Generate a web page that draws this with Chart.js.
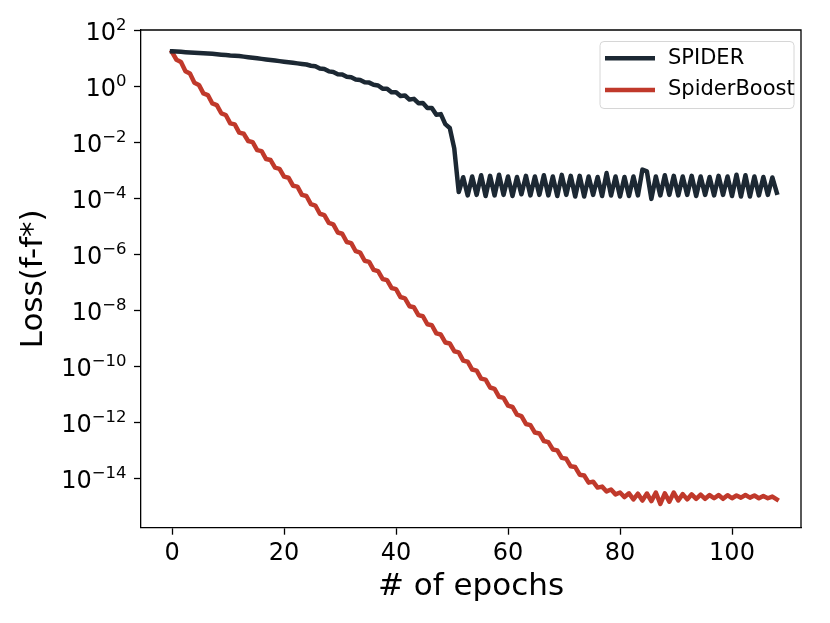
<!DOCTYPE html>
<html>
<head>
<meta charset="utf-8">
<script src="https://cdn.jsdelivr.net/npm/chart.js@4.4.1/dist/chart.umd.min.js"></script>
<style>
  html, body { margin: 0; padding: 0; background: #fff; }
  canvas { display: block; }
</style>
</head>
<body>
<canvas id="c" width="830" height="623"></canvas>
<script>
// ---- data ----
const epochs = [0, 0.8, 1.6, 2.4, 3.2, 4, 4.8, 5.6, 6.4, 7.2, 8, 8.8, 9.6, 10.4, 11.2, 12, 12.8, 13.6, 14.4, 15.2,
  16, 16.8, 17.6, 18.4, 19.2, 20, 20.8, 21.6, 22.4, 23.2, 24, 24.8, 25.6, 26.4, 27.2, 28, 28.8, 29.6, 30.4, 31.2,
  32, 32.8, 33.6, 34.4, 35.2, 36, 36.8, 37.6, 38.4, 39.2, 40, 40.8, 41.6, 42.4, 43.2, 44, 44.8, 45.6, 46.4, 47.2,
  48, 48.8, 49.6, 50.4, 51.2, 52, 52.8, 53.6, 54.4, 55.2, 56, 56.8, 57.6, 58.4, 59.2, 60, 60.8, 61.6, 62.4, 63.2,
  64, 64.8, 65.6, 66.4, 67.2, 68, 68.8, 69.6, 70.4, 71.2, 72, 72.8, 73.6, 74.4, 75.2, 76, 76.8, 77.6, 78.4, 79.2,
  80, 80.8, 81.6, 82.4, 83.2, 84, 84.8, 85.6, 86.4, 87.2, 88, 88.8, 89.6, 90.4, 91.2, 92, 92.8, 93.6, 94.4, 95.2,
  96, 96.8, 97.6, 98.4, 99.2, 100, 100.8, 101.6, 102.4, 103.2, 104, 104.8, 105.6, 106.4, 107.2, 108];

const spiderLoss = [
  17.38, 16.98, 16.60, 16.22, 15.85, 15.49, 15.14, 14.79, 14.45, 14.13,
  13.65, 13.18, 12.74, 12.30, 12.02, 11.75, 11.22, 10.72, 10.23, 9.77,
  9.33, 8.91, 8.51, 8.13, 7.76, 7.41, 7.08, 6.76, 6.46, 6.17,
  5.89, 5.31, 5.07, 4.22, 4.03, 3.35, 3.20, 2.66, 2.60, 2.16,
  2.07, 1.72, 1.64, 1.36, 1.33, 1.11, 1.05, 0.81, 0.81, 0.60,
  0.60, 0.44, 0.46, 0.33, 0.35, 0.245, 0.25, 0.166, 0.166, 0.095,
  0.10, 0.044, 0.032, 6.0e-3, 1.66e-4,
  5.6e-4, 1.26e-4, 6.0e-4, 1.32e-4, 6.6e-4, 1.20e-4, 6.3e-4, 1.26e-4, 6.9e-4, 1.32e-4,
  6.0e-4, 1.20e-4, 5.75e-4, 1.38e-4, 6.3e-4, 1.26e-4, 6.0e-4, 1.32e-4, 6.6e-4, 1.26e-4,
  6.0e-4, 1.20e-4, 6.8e-4, 1.32e-4, 6.3e-4, 1.15e-4, 6.3e-4, 1.15e-4, 6.0e-4, 1.32e-4,
  5.75e-4, 1.20e-4, 7.9e-4, 1.26e-4, 6.0e-4, 1.15e-4, 5.75e-4, 1.20e-4, 6.0e-4, 1.26e-4,
  1.05e-3, 9.1e-4, 9.5e-5, 6.0e-4, 1.26e-4, 6.6e-4, 1.32e-4, 6.3e-4, 1.26e-4, 6.0e-4,
  1.32e-4, 6.3e-4, 1.20e-4, 6.0e-4, 1.32e-4, 5.75e-4, 1.26e-4, 6.3e-4, 1.32e-4, 6.0e-4,
  1.20e-4, 6.9e-4, 1.15e-4, 6.6e-4, 1.15e-4, 6.0e-4, 1.26e-4, 5.75e-4, 1.32e-4, 5.5e-4, 1.58e-4];

const spiderBoostLoss = [
  16.2, 8.7, 7.2, 3.4, 2.8, 1.32, 1.10, 0.55, 0.48, 0.24,
  0.21, 0.107, 0.093, 0.047, 0.043, 0.022, 0.020, 0.011, 0.010, 5.2e-3,
  4.8e-3, 2.5e-3, 2.3e-3, 1.23e-3, 1.12e-3, 5.9e-4, 5.4e-4, 2.8e-4, 2.6e-4, 1.32e-4,
  1.20e-4, 6.2e-5, 5.5e-5, 2.8e-5, 2.5e-5, 1.32e-5, 1.17e-5, 6.0e-6, 5.4e-6, 2.75e-6,
  2.5e-6, 1.29e-6, 1.15e-6, 5.9e-7, 5.4e-7, 2.8e-7, 2.5e-7, 1.32e-7, 1.20e-7, 6.3e-8,
  5.75e-8, 3.0e-8, 2.7e-8, 1.41e-8, 1.29e-8, 6.8e-9, 6.2e-9, 3.2e-9, 2.95e-9, 1.51e-9,
  1.38e-9, 7.2e-10, 6.6e-10, 3.5e-10, 3.2e-10, 1.62e-10, 1.48e-10, 7.8e-11, 7.1e-11, 3.7e-11,
  3.4e-11, 1.78e-11, 1.58e-11, 8.3e-12, 7.6e-12, 4.0e-12, 3.6e-12, 1.91e-12, 1.70e-12, 8.9e-13,
  8.1e-13, 4.4e-13, 4.1e-13, 2.2e-13, 2.0e-13, 1.10e-13, 1.02e-13, 5.5e-14, 5.1e-14, 2.75e-14,
  2.6e-14, 1.38e-14, 1.29e-14, 7.2e-15, 7.8e-15, 4.8e-15, 5.2e-15, 3.5e-15, 4.1e-15, 2.75e-15,
  3.2e-15, 2.2e-15, 3.0e-15, 1.82e-15, 2.9e-15, 1.66e-15, 2.95e-15, 1.58e-15, 3.2e-15, 1.26e-15,
  3.0e-15, 1.51e-15, 3.2e-15, 1.66e-15, 2.8e-15, 1.82e-15, 2.75e-15, 1.91e-15, 2.7e-15, 1.91e-15,
  2.6e-15, 2.0e-15, 2.6e-15, 1.91e-15, 2.57e-15, 2.0e-15, 2.5e-15, 2.1e-15, 2.6e-15, 2.1e-15,
  2.5e-15, 2.0e-15, 2.4e-15, 2.0e-15, 2.3e-15, 1.82e-15];

const seriesNames = ['SPIDER', 'SpiderBoost'];
const seriesColors = ['#1c2833', '#c0392b'];

const xTickValues = [0, 20, 40, 60, 80, 100];
const yTickValues = [1e2, 1e0, 1e-2, 1e-4, 1e-6, 1e-8, 1e-10, 1e-12, 1e-14];
const yTickBase = '10';
const yTickExponents = ['2', '0', '\u22122', '\u22124', '\u22126', '\u22128', '\u221210', '\u221212', '\u221214'];
const xLimits = [-5.54, 112.32];
const yLimits = [1.78e-16, 1e2];

// ---- plugins ----
const FONT = 'DejaVu Sans';

const framePlugin = {
  id: 'frame',
  afterDraw(chart) {
    const { ctx, chartArea: a } = chart;
    ctx.save();
    ctx.strokeStyle = '#000';
    ctx.lineWidth = 1.3;
    ctx.beginPath();
    ctx.moveTo(a.left, a.top);
    ctx.lineTo(a.right, a.top);
    ctx.lineTo(a.right, a.bottom);
    ctx.stroke();
    ctx.restore();
  }
};

// y tick labels drawn as "10" with a raised exponent (like mathtext)
const powerLabelsPlugin = {
  id: 'powerLabels',
  afterDraw(chart) {
    const { ctx } = chart;
    const yScale = chart.scales.y;
    const right = yScale.right - 7 - 7.5;
    ctx.save();
    ctx.fillStyle = '#000';
    ctx.textAlign = 'left';
    ctx.textBaseline = 'alphabetic';
    yTickValues.forEach((v, i) => {
      const py = yScale.getPixelForValue(v);
      const expText = yTickExponents[i];
      ctx.font = '16.5px "' + FONT + '"';
      const ew = ctx.measureText(expText).width;
      ctx.font = '24px "' + FONT + '"';
      const bw = ctx.measureText(yTickBase).width;
      const xExp = right - ew;
      const xBase = xExp - bw;
      ctx.font = '24px "' + FONT + '"';
      ctx.fillText(yTickBase, xBase, py + 9.8);
      ctx.font = '16.5px "' + FONT + '"';
      ctx.fillText(expText, xExp, py - 0.2);
    });
    ctx.restore();
  }
};

const boxLegendPlugin = {
  id: 'boxLegend',
  afterDraw(chart) {
    const { ctx, chartArea: a } = chart;
    const w = 194, h = 67, r = 4;
    const x0 = a.right - 7 - w, y0 = a.top + 11.5;
    ctx.save();
    ctx.fillStyle = 'rgba(255,255,255,0.8)';
    ctx.strokeStyle = '#d6d6d6';
    ctx.lineWidth = 1;
    ctx.beginPath();
    ctx.moveTo(x0 + r, y0);
    ctx.lineTo(x0 + w - r, y0);
    ctx.arcTo(x0 + w, y0, x0 + w, y0 + r, r);
    ctx.lineTo(x0 + w, y0 + h - r);
    ctx.arcTo(x0 + w, y0 + h, x0 + w - r, y0 + h, r);
    ctx.lineTo(x0 + r, y0 + h);
    ctx.arcTo(x0, y0 + h, x0, y0 + h - r, r);
    ctx.lineTo(x0, y0 + r);
    ctx.arcTo(x0, y0, x0 + r, y0, r);
    ctx.closePath();
    ctx.fill();
    ctx.stroke();
    chart.data.datasets.forEach((ds, i) => {
      const cy = y0 + 16.8 + i * 31.7;
      ctx.strokeStyle = ds.borderColor;
      ctx.lineWidth = 4.5;
      ctx.lineCap = 'butt';
      ctx.beginPath();
      ctx.moveTo(x0 + 5, cy);
      ctx.lineTo(x0 + 55, cy);
      ctx.stroke();
      ctx.fillStyle = '#000';
      ctx.font = '21px "' + FONT + '"';
      ctx.textBaseline = 'middle';
      ctx.textAlign = 'left';
      ctx.fillText(ds.label, x0 + 68, cy);
    });
    ctx.restore();
  }
};

// ---- chart ----
const datasets = [spiderLoss, spiderBoostLoss].map((vals, i) => ({
  label: seriesNames[i],
  data: epochs.map((e, j) => ({ x: e, y: vals[j] })),
  borderColor: seriesColors[i],
  backgroundColor: seriesColors[i],
  borderWidth: 4.5,
  pointRadius: 0,
  tension: 0,
  borderJoinStyle: 'round',
  borderCapStyle: 'square',
  fill: false
}));

new Chart(document.getElementById('c'), {
  type: 'line',
  data: { datasets },
  options: {
    responsive: false,
    animation: false,
    devicePixelRatio: 1,
    layout: { padding: { top: 30, right: 29, left: 0, bottom: 0 } },
    plugins: { legend: { display: false }, tooltip: { enabled: false } },
    scales: {
      x: {
        type: 'linear',
        min: xLimits[0],
        max: xLimits[1],
        afterBuildTicks: s => { s.ticks = xTickValues.map(v => ({ value: v })); },
        afterFit: s => { s.height = 95.3; },
        grid: { display: true, drawOnChartArea: false, drawTicks: true, tickLength: 7, tickWidth: 1.3, tickColor: '#000' },
        border: { display: true, color: '#000', width: 1.3 },
        ticks: { color: '#000', font: { family: FONT, size: 24 }, padding: 5, maxRotation: 0, autoSkip: false },
        title: { display: true, text: '# of epochs', color: '#000', font: { family: FONT, size: 31 }, padding: { top: 0, bottom: 17 } }
      },
      y: {
        type: 'logarithmic',
        min: yLimits[0],
        max: yLimits[1],
        afterBuildTicks: s => { s.ticks = yTickValues.map(v => ({ value: v })); },
        afterFit: s => { s.width = 141; },
        grid: { display: true, drawOnChartArea: false, drawTicks: true, tickLength: 7, tickWidth: 1.3, tickColor: '#000' },
        border: { display: true, color: '#000', width: 1.3 },
        ticks: { display: false, autoSkip: false },
        title: { display: true, text: 'Loss(f-f*)', color: '#000', font: { family: FONT, size: 31 }, padding: { top: 15, bottom: 0 } }
      }
    }
  },
  plugins: [framePlugin, powerLabelsPlugin, boxLegendPlugin]
});
</script>
</body>
</html>
